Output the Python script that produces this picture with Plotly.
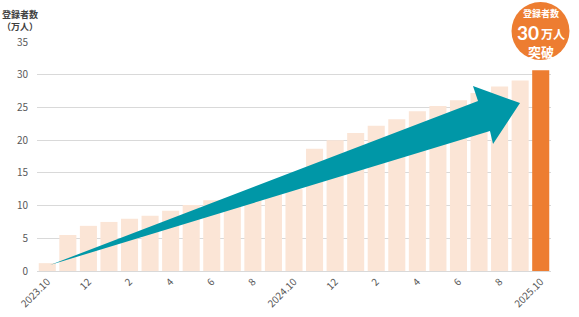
import plotly.graph_objects as go

months = ["2023.10", "2023.11", "2023.12", "2024.1", "2024.2", "2024.3", "2024.4", "2024.5",
          "2024.6", "2024.7", "2024.8", "2024.9", "2024.10", "2024.11", "2024.12", "2025.1",
          "2025.2", "2025.3", "2025.4", "2025.5", "2025.6", "2025.7", "2025.8", "2025.9", "2025.10"]
values = [1.2, 5.5, 6.9, 7.5, 8.0, 8.45, 9.2, 10.1, 10.8, 11.1, 11.5, 11.9, 12.5,
          18.7, 20.0, 21.1, 22.2, 23.2, 24.4, 25.2, 26.1, 27.2, 28.2, 29.1, 30.7]
tick_vals = months[::2]
tick_text = ["2023.10", "12", "2", "4", "6", "8", "2024.10", "12", "2", "4", "6", "8", "2025.10"]

LIGHT = "#FBE5D6"
ORANGE = "#ED7D31"
TEAL = "#0097A7"
FONT = "Noto Sans CJK JP"

colors = [LIGHT] * (len(values) - 1) + [ORANGE]

fig = go.Figure(go.Bar(x=months, y=values, marker=dict(color=colors, line=dict(width=0)),
                       hoverinfo="x+y"))

def px(x):
    return (x - 37) / 514

def py(y):
    return (271 - y) / 229

arrow_pts = [(50, 265), (478, 101), (473, 86), (520, 103), (493, 144), (490, 131)]
path = "M " + " L ".join(f"{px(a):.4f},{py(b):.4f}" for a, b in arrow_pts) + " Z"

shapes = [
    dict(type="path", xref="paper", yref="paper", path=path,
         fillcolor=TEAL, line=dict(width=0), layer="above"),
    dict(type="circle", xref="paper", yref="paper",
         x0=px(511.5), x1=px(569.5), y0=py(60), y1=py(2),
         fillcolor=ORANGE, line=dict(width=0), layer="above"),
]

def ann(x, y, text, size, color, family=FONT, xanchor="center"):
    return dict(xref="paper", yref="paper", x=px(x), y=py(y), text=text,
                xanchor=xanchor, yanchor="middle", showarrow=False, borderpad=0,
                font=dict(size=size, color=color, family=family))

annotations = [
    ann(540.5, 13.5, "<b>登録者数</b>", 9, "white"),
    ann(539.5, 32.5, "<b>30</b>", 19, "white", family="Lato", xanchor="right"),
    ann(539.5, 33.5, "<b>万人</b>", 12, "white", xanchor="left"),
    ann(540.5, 51.5, "<b>突破</b>", 13, "white"),
    ann(20, 21, "<b>登録者数</b><br><b>（万人）</b>", 9, "#404040"),
]

fig.update_layout(
    width=579, height=317,
    margin=dict(l=37, r=28, t=42, b=46),
    paper_bgcolor="white", plot_bgcolor="white",
    bargap=0.17,
    showlegend=False,
    shapes=shapes,
    annotations=annotations,
    font=dict(family=FONT, color="#595959", size=10),
    xaxis=dict(type="category", tickmode="array", tickvals=tick_vals, ticktext=tick_text,
               tickangle=-45, showgrid=False, showline=True, linecolor="#D9D9D9", linewidth=1,
               ticks="", automargin=False, tickfont=dict(size=10, color="#595959")),
    yaxis=dict(range=[0, 35], dtick=5, showgrid=True, gridcolor="#D9D9D9", gridwidth=1,
               zeroline=False, showline=False, ticks="", ticklabelstandoff=8, automargin=False,
               tickfont=dict(size=10, color="#595959")),
)

fig.write_html("out.html")
